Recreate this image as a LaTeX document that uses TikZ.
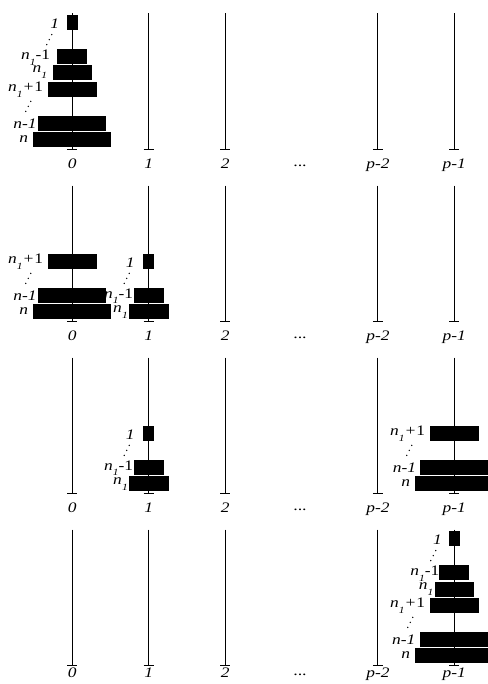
\documentclass[tikz,border=0pt]{standalone}
\usepackage{fontspec}
\setmainfont{Liberation Serif}[FakeStretch=1.2]
\newcommand\lnI{n\kern0.2bp\raisebox{-5.8bp}{\fontsize{9.5bp}{9.5bp}\selectfont 1}}
\newcommand\mydisk[5]{\node[disk, minimum width=#5bp] (#1) at ({#2},{#3-16.7*#4-9.2}) {};}
\newcommand\mylab[7]{\node[lbl, anchor=base east] (#1) at ({#2+#5},{#3-16.7*#4-9.2+#6}) {#7};}
\newcommand\mydots[5]{%
  \node[dotn] (#1a) at ({#2+#5-2.5},{#3-16.7*#4-9.2+5}) {};
  \node[dotn] (#1b) at ({#2+#5},{#3-16.7*#4-9.2}) {};
  \node[dotn] (#1c) at ({#2+#5+2.5},{#3-16.7*#4-9.2-5}) {};}
\tikzset{
  disk/.style={rectangle, fill=black, draw=none, inner sep=0pt, minimum height=15bp},
  polel/.style={line width=0.9bp, black},
  lbl/.style={font=\fontsize{14.5bp}{16bp}\selectfont\itshape, inner sep=0pt, text=black},
  dotn/.style={circle, fill=black, inner sep=0pt, minimum size=1.5bp},
}
\begin{document}
\begin{tikzpicture}[x=1bp,y=-1bp]
\useasboundingbox (0,0) rectangle (488,684);
\fill[white] (0,0) rectangle (488,684);
% poles, ticks and pole labels
\foreach \r/\lo in {0/19,1/19,2/19,3/12.3} {
  \foreach \i/\t in {0/0,1/1,2/2,4/p-2,5/p-1} {
    \pgfmathsetmacro\px{72.3+76.4*\i}
    \pgfmathsetmacro\pb{149+172*\r}
    \coordinate (top-\r-\i) at (\px,\pb-135.5);
    \coordinate (base-\r-\i) at (\px,\pb);
    \draw[polel] (top-\r-\i) -- (base-\r-\i);
    \draw[polel] ([xshift=-5bp]base-\r-\i) -- ([xshift=5bp]base-\r-\i);
    \node[lbl, anchor=base] (lab-\r-\i) at (\px,\pb+\lo) {\t};
  }
  \pgfmathsetmacro\pb{149+172*\r}
  \node[lbl, anchor=base] (ell-\r) at (300.5,\pb+\lo-2) {...};
}
% ---------- row 1: all on pole 0
\def\B{149}\def\P{72.3}
\mydisk{a1}{\P}{\B}{7}{10.6}
\mydisk{a2}{\P}{\B}{5}{30}
\mydisk{a3}{\P}{\B}{4}{39.6}
\mydisk{a4}{\P}{\B}{3}{48.4}
\mydisk{a5}{\P}{\B}{1}{67.7}
\mydisk{a6}{\P}{\B}{0}{77.7}
\mylab{la1}{\P}{\B}{7}{-13}{6}{1}
\mylab{la2}{\P}{\B}{5}{-22}{3}{\lnI-{\upshape 1}}
\mylab{la3}{\P}{\B}{4}{-25}{0}{\lnI}
\mylab{la4}{\P}{\B}{3}{-29}{2}{\lnI+{\upshape 1}}
\mylab{la5}{\P}{\B}{1}{-35.6}{5}{n-1}
\mylab{la6}{\P}{\B}{0}{-44}{3}{n}
\mydots{da1}{\P}{\B}{6}{-23}
\mydots{da2}{\P}{\B}{2}{-44}
% ---------- row 2
\def\B{321}\def\P{72.3}
\mydisk{b4}{\P}{\B}{3}{48.4}
\mydisk{b5}{\P}{\B}{1}{67.7}
\mydisk{b6}{\P}{\B}{0}{77.7}
\mylab{lb4}{\P}{\B}{3}{-29}{2}{\lnI+{\upshape 1}}
\mylab{lb5}{\P}{\B}{1}{-35.6}{5}{n-1}
\mylab{lb6}{\P}{\B}{0}{-44}{3}{n}
\mydots{db2}{\P}{\B}{2}{-44}
\def\P{148.7}
\mydisk{b1}{\P}{\B}{3}{10.6}
\mydisk{b2}{\P}{\B}{1}{30}
\mydisk{b3}{\P}{\B}{0}{39.6}
\mylab{lb1}{\P}{\B}{3}{-14}{6}{1}
\mylab{lb2}{\P}{\B}{1}{-15.4}{3}{\lnI-{\upshape 1}}
\mylab{lb3}{\P}{\B}{0}{-20.7}{0.5}{\lnI}
\mydots{db1}{\P}{\B}{2}{-22}
% ---------- row 3
\def\B{493}\def\P{148.7}
\mydisk{c1}{\P}{\B}{3}{10.6}
\mydisk{c2}{\P}{\B}{1}{30}
\mydisk{c3}{\P}{\B}{0}{39.6}
\mylab{lc1}{\P}{\B}{3}{-14}{6}{1}
\mylab{lc2}{\P}{\B}{1}{-15.4}{3}{\lnI-{\upshape 1}}
\mylab{lc3}{\P}{\B}{0}{-20.7}{0.5}{\lnI}
\mydots{dc1}{\P}{\B}{2}{-22}
\def\P{454.3}
\mydisk{c4}{\P}{\B}{3}{48.4}
\mydisk{c5}{\P}{\B}{1}{67.7}
\mydisk{c6}{\P}{\B}{0}{77.7}
\mylab{lc4}{\P}{\B}{3}{-29}{2}{\lnI+{\upshape 1}}
\mylab{lc5}{\P}{\B}{1}{-38}{5}{n-1}
\mylab{lc6}{\P}{\B}{0}{-44}{3}{n}
\mydots{dc2}{\P}{\B}{2}{-45}
% ---------- row 4: all on pole p-1
\def\B{665}\def\P{454.3}
\mydisk{e1}{\P}{\B}{7}{10.6}
\mydisk{e2}{\P}{\B}{5}{30}
\mydisk{e3}{\P}{\B}{4}{39.6}
\mydisk{e4}{\P}{\B}{3}{48.4}
\mydisk{e5}{\P}{\B}{1}{67.7}
\mydisk{e6}{\P}{\B}{0}{77.7}
\mylab{le1}{\P}{\B}{7}{-12.3}{6}{1}
\mylab{le2}{\P}{\B}{5}{-14.7}{3}{\lnI-{\upshape 1}}
\mylab{le3}{\P}{\B}{4}{-20.7}{0.5}{\lnI}
\mylab{le4}{\P}{\B}{3}{-29}{2}{\lnI+{\upshape 1}}
\mylab{le5}{\P}{\B}{1}{-38.7}{5}{n-1}
\mylab{le6}{\P}{\B}{0}{-44}{3}{n}
\mydots{de1}{\P}{\B}{6}{-21}
\mydots{de2}{\P}{\B}{2}{-44}
\end{tikzpicture}
\end{document}
